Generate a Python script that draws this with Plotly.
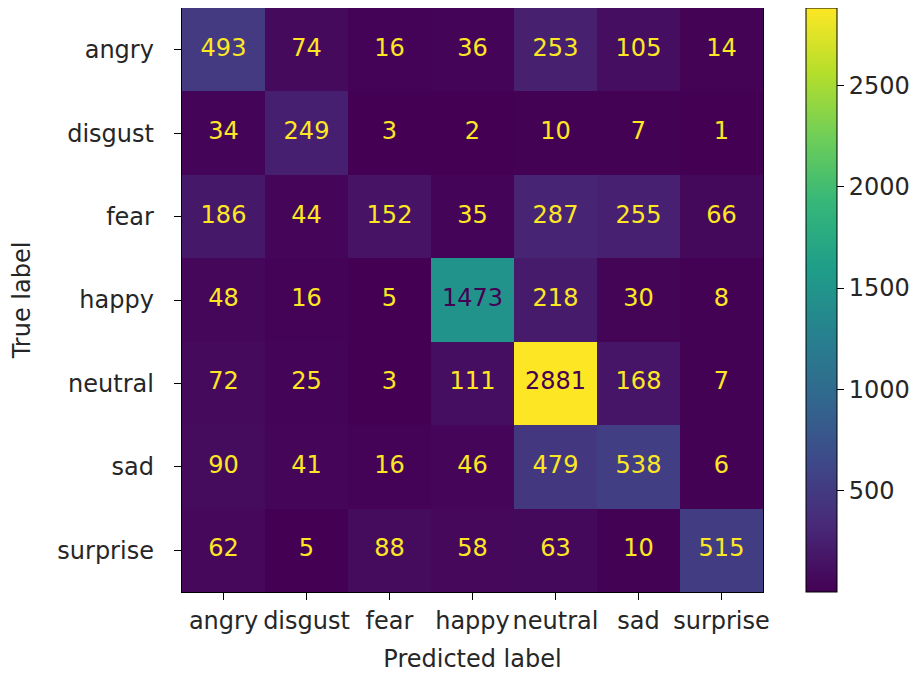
import plotly.graph_objects as go

# Confusion matrix values (rows = true label, columns = predicted label)
labels = ["angry", "disgust", "fear", "happy", "neutral", "sad", "surprise"]
row_angry = [493, 74, 16, 36, 253, 105, 14]
row_disgust = [34, 249, 3, 2, 10, 7, 1]
row_fear = [186, 44, 152, 35, 287, 255, 66]
row_happy = [48, 16, 5, 1473, 218, 30, 8]
row_neutral = [72, 25, 3, 111, 2881, 168, 7]
row_sad = [90, 41, 16, 46, 479, 538, 6]
row_surprise = [62, 5, 88, 58, 63, 10, 515]
cbar_ticks = [500, 1000, 1500, 2000, 2500]

z = [row_angry, row_disgust, row_fear, row_happy, row_neutral, row_sad, row_surprise]
zmin = min(min(r) for r in z)
zmax = max(max(r) for r in z)
thresh = (zmin + zmax) / 2

FS = 24
txt_col = "#262626"

fig = go.Figure()
fig.add_trace(go.Heatmap(
    x=labels, y=labels, z=z, zmin=zmin, zmax=zmax,
    colorscale="Viridis", hoverinfo="skip",
    colorbar=dict(
        x=1.074, xanchor="left", xref="paper",
        y=0.5, yanchor="middle", len=1, lenmode="fraction",
        thickness=31, outlinewidth=1, outlinecolor="black",
        tickvals=cbar_ticks, ticks="outside", ticklen=7, tickcolor="black",
        tickfont=dict(size=FS, color=txt_col), xpad=0, ypad=0,
    ),
))

# cell texts
tx, ty, tt, tc = [], [], [], []
for i, row in enumerate(z):
    for j, v in enumerate(row):
        tx.append(labels[j])
        ty.append(labels[i])
        tt.append(str(v))
        tc.append("#440154" if v > thresh else "#fde725")
fig.add_trace(go.Scatter(
    x=tx, y=ty, text=tt, mode="text", hoverinfo="skip", showlegend=False,
    textfont=dict(size=FS, color=tc, family="DejaVu Sans"),
))

axis_common = dict(
    showgrid=False, zeroline=False, showline=True, linecolor="black", linewidth=1,
    mirror=True, ticks="outside", ticklen=7, tickcolor="black",
    tickfont=dict(size=FS, color=txt_col),
)
fig.update_xaxes(**axis_common, tickangle=0,
                 title=dict(text="Predicted label", font=dict(size=FS, color=txt_col), standoff=16))
fig.update_yaxes(**axis_common, autorange="reversed", ticksuffix="  ",
                 title=dict(text="True label", font=dict(size=FS, color=txt_col), standoff=20))

fig.update_layout(
    width=924, height=678,
    margin=dict(l=174, r=169, t=0, b=94, autoexpand=False),
    paper_bgcolor="white", plot_bgcolor="white",
    font=dict(family="DejaVu Sans", size=FS, color=txt_col),
    showlegend=False,
)

fig.write_html("out.html")
